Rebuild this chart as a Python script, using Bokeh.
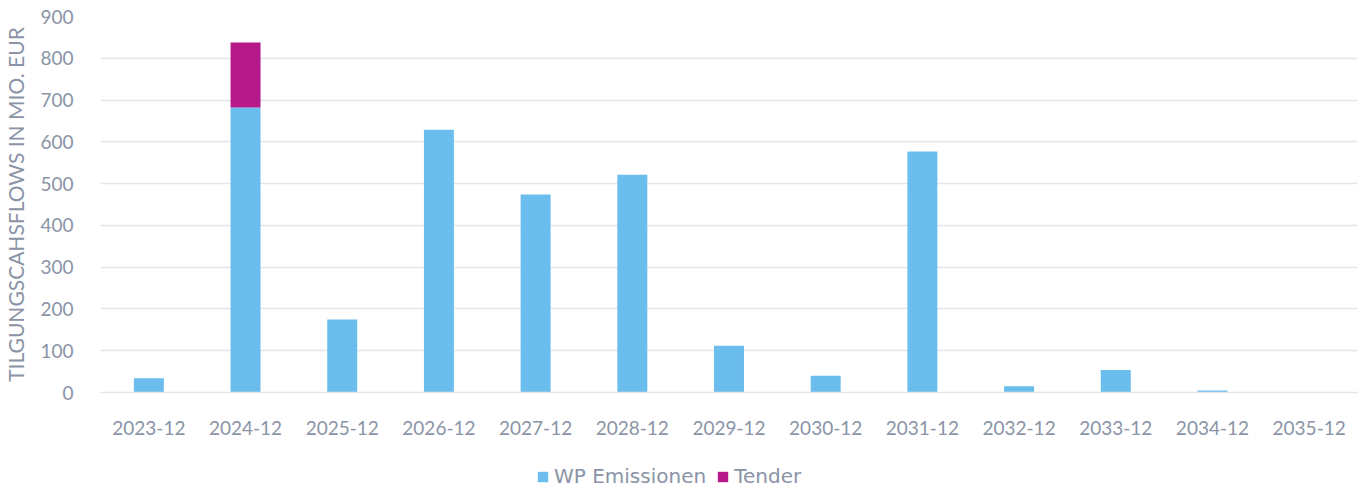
from bokeh.plotting import figure
from bokeh.layouts import column
from bokeh.models import ColumnDataSource, Legend, LegendItem, FactorRange, SingleIntervalTicker
from bokeh.embed import file_html
from bokeh.resources import INLINE

categories = ["2023-12", "2024-12", "2025-12", "2026-12", "2027-12", "2028-12", "2029-12",
              "2030-12", "2031-12", "2032-12", "2033-12", "2034-12", "2035-12"]
wp_emissionen = [34, 682, 175, 629, 474, 521, 112, 40, 577, 15, 54, 5, 0]
tender = [0, 156, 0, 0, 0, 0, 0, 0, 0, 0, 0, 0, 0]
series = ["wp", "tender"]
series_labels = ["WP Emissionen", "Tender"]
colors = ["#6BBDEE", "#B5198A"]

src = ColumnDataSource(dict(cat=categories, wp=wp_emissionen, tender=tender))

FONT = "Lato"
TXT = "#8A94A6"

p = figure(x_range=FactorRange(*categories, range_padding=0), y_range=(0, 900),
           width=1365, height=448, output_backend="svg", toolbar_location=None,
           min_border_top=16, min_border_right=8, min_border_left=100, min_border_bottom=56)

r = p.vbar_stack(series, x="cat", width=0.31, color=colors, source=src, line_color=None)

p.outline_line_color = None
p.background_fill_color = "white"
p.border_fill_color = "white"

p.ygrid.grid_line_color = "#E3E5EA"
p.ygrid.grid_line_width = 1.5
p.xgrid.grid_line_color = None

p.yaxis.ticker = SingleIntervalTicker(interval=100)
p.yaxis.axis_line_color = None
p.yaxis.major_tick_line_color = None
p.yaxis.minor_tick_line_color = None
p.yaxis.major_label_text_font = FONT
p.yaxis.major_label_text_font_size = "19px"
p.yaxis.major_label_text_color = TXT
p.yaxis.major_label_standoff = 21
p.yaxis.axis_label = "TILGUNGSCAHSFLOWS IN MIO. EUR"
p.yaxis.axis_label_text_font = FONT
p.yaxis.axis_label_text_font_style = "normal"
p.yaxis.axis_label_text_font_size = "21px"
p.yaxis.axis_label_text_color = TXT
p.yaxis.axis_label_standoff = 9

p.xaxis.axis_line_color = "#E3E5EA"
p.xaxis.axis_line_width = 1.5
p.xaxis.major_tick_line_color = None
p.xaxis.minor_tick_line_color = None
p.xaxis.major_label_text_font = FONT
p.xaxis.major_label_text_font_size = "19px"
p.xaxis.major_label_text_color = TXT
p.xaxis.major_label_standoff = 22

# legend strip below the chart (swatch proxies lie outside the visible range)
lg = figure(x_range=(0, 1), y_range=(0, 1), width=1365, height=40,
            output_backend="svg", toolbar_location=None,
            min_border=0, outline_line_color=None)
lg.axis.visible = False
lg.grid.visible = False
proxy = ColumnDataSource(dict(x=[-5], top=[-5], bottom=[-6]))
swatches = [lg.vbar(x="x", top="top", bottom="bottom", width=0.1, source=proxy,
                    fill_color=c, line_color=None) for c in colors]
items = [LegendItem(label=series_labels[i], renderers=[swatches[i]]) for i in range(2)]
legend = Legend(items=items, orientation="horizontal", location=(436, 0),
                label_text_font="DejaVu Sans", label_text_font_size="20px", label_text_color=TXT,
                glyph_width=13, glyph_height=13, spacing=10, label_standoff=5,
                border_line_color=None, background_fill_alpha=0, padding=0, margin=0)
lg.add_layout(legend, "center")

layout = column(p, lg, spacing=0)
open("out.html", "w").write(file_html(layout, INLINE))
